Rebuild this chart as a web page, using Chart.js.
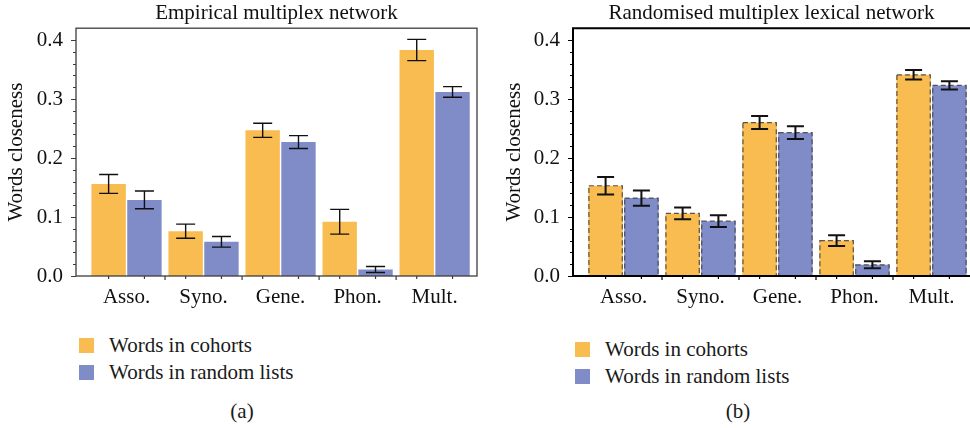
<!DOCTYPE html>
<html>
<head>
<meta charset="utf-8">
<script src="https://cdn.jsdelivr.net/npm/chart.js@4.4.1/dist/chart.umd.min.js"></script>
<style>
    html, body { margin: 0; padding: 0; background: #fff; }
    body { width: 970px; height: 428px; position: relative; overflow: hidden; font-family: "Liberation Serif", "DejaVu Serif", serif; color: #1a1a1a; }
    canvas { position: absolute; top: 0; }
    #chartA { left: 0; }
    #chartB { left: 485px; }
    .legend { position: absolute; font-size: 21px; }
    .legend .row { display: flex; align-items: center; height: 27px; }
    .legend .sw { width: 15px; height: 15px; margin-right: 15px; }
    .caption { position: absolute; font-size: 21px; width: 40px; text-align: center; }
</style>
</head>
<body>
<canvas id="chartA" width="485" height="310"></canvas>
<canvas id="chartB" width="485" height="310"></canvas>
<div class="legend" id="legendA" style="left:79px; top:332px;"></div>
<div class="legend" id="legendB" style="left:575px; top:336px;"></div>
<div class="caption" style="left:222px; top:399px;">(a)</div>
<div class="caption" style="left:718px; top:399px;">(b)</div>
<script>
const categories = ['Asso.', 'Syno.', 'Gene.', 'Phon.', 'Mult.'];
const seriesNames = ['Words in cohorts', 'Words in random lists'];

// (a) empirical network
const empCohorts = [0.156, 0.076, 0.247, 0.092, 0.383];
const empCohortsErr = [0.016, 0.012, 0.012, 0.021, 0.018];
const empRandom = [0.129, 0.058, 0.227, 0.011, 0.312];
const empRandomErr = [0.015, 0.009, 0.011, 0.005, 0.009];

// (b) randomised network
const rndCohorts = [0.153, 0.106, 0.260, 0.060, 0.341];
const rndCohortsErr = [0.015, 0.010, 0.011, 0.009, 0.008];
const rndRandom = [0.132, 0.093, 0.243, 0.019, 0.323];
const rndRandomErr = [0.013, 0.010, 0.011, 0.006, 0.007];

const yMajorTicks = [0, 0.1, 0.2, 0.3, 0.4];
const yMinorStep = 0.02;

const ORANGE = '#f9bc50';
const BLUE = '#808cc7';
const FONT = '"Liberation Serif", "DejaVu Serif", serif';

function toPoints(vals) {
    return vals.map((v, i) => ({ x: i, y: v }));
}

// error bars + axis tick marks + frame
const decorPlugin = {
    id: 'decor',
    afterDatasetsDraw(chart, args, opts) {
        const ctx = chart.ctx;
        const yScale = chart.scales.y;
        const xScale = chart.scales.x;
        const area = chart.chartArea;

        ctx.save();
        if (opts.dashed) {
            chart.data.datasets.forEach((ds, d) => {
                chart.getDatasetMeta(d).data.forEach(bar => {
                    const p = bar.getProps(['x', 'y', 'base', 'width'], true);
                    ctx.strokeStyle = 'rgba(60,60,60,0.85)';
                    ctx.lineWidth = 1.2;
                    ctx.setLineDash([5, 3]);
                    ctx.strokeRect(p.x - p.width / 2 + 0.5, p.y, p.width - 1, p.base - p.y);
                });
            });
            ctx.setLineDash([]);
        }

        // error bars
        chart.data.datasets.forEach((ds, d) => {
            chart.getDatasetMeta(d).data.forEach((bar, i) => {
                const v = ds.data[i].y;
                const e = ds.errors[i];
                const x = bar.x;
                const yTop = yScale.getPixelForValue(v + e);
                const yBot = yScale.getPixelForValue(v - e);
                ctx.strokeStyle = '#111';
                ctx.lineWidth = opts.errWidth;
                ctx.beginPath();
                ctx.moveTo(x, yTop); ctx.lineTo(x, yBot);
                ctx.moveTo(x - opts.cap, yTop); ctx.lineTo(x + opts.cap, yTop);
                ctx.moveTo(x - opts.cap, yBot); ctx.lineTo(x + opts.cap, yBot);
                ctx.stroke();
            });
        });

        // y tick marks
        ctx.strokeStyle = opts.frameColor;
        ctx.lineWidth = 1.2;
        ctx.beginPath();
        yScale.ticks.forEach(t => {
            const y = Math.round(yScale.getPixelForValue(t.value)) + 0.5;
            const major = yMajorTicks.some(m => Math.abs(m - t.value) < 1e-6);
            const len = major ? 5 : 3;
            ctx.moveTo(area.left - len, y); ctx.lineTo(area.left, y);
        });
        // x tick marks: bar centres and category boundaries
        chart.data.datasets.forEach((ds, d) => {
            chart.getDatasetMeta(d).data.forEach(bar => {
                ctx.moveTo(bar.x, area.bottom); ctx.lineTo(bar.x, area.bottom + 3);
            });
        });
        for (let i = 0; i < categories.length - 1; i++) {
            const x = xScale.getPixelForValue(i + 0.5);
            ctx.moveTo(x, area.bottom); ctx.lineTo(x, area.bottom + 4);
        }
        ctx.stroke();

        // frame
        ctx.strokeStyle = opts.frameColor;
        ctx.lineWidth = opts.frameWidth;
        if (opts.fullFrame) {
            ctx.strokeRect(area.left, area.top, area.right - area.left, area.bottom - area.top);
        } else {
            ctx.beginPath();
            ctx.moveTo(area.right, area.top);
            ctx.lineTo(area.left, area.top);
            ctx.lineTo(area.left, area.bottom);
            ctx.lineTo(area.right, area.bottom);
            ctx.stroke();
        }
        ctx.restore();
    }
};

function makeChart(id, title, cohorts, cohortsErr, random, randomErr, cfg) {
    return new Chart(document.getElementById(id), {
        type: 'bar',
        data: {
            datasets: [
                { label: seriesNames[0], data: toPoints(cohorts), errors: cohortsErr, backgroundColor: ORANGE, borderWidth: 0 },
                { label: seriesNames[1], data: toPoints(random), errors: randomErr, backgroundColor: BLUE, borderWidth: 0 }
            ]
        },
        plugins: [decorPlugin],
        options: {
            responsive: false,
            animation: false,
            categoryPercentage: 0.93,
            barPercentage: 0.96,
            layout: { padding: { top: 1, left: cfg.padLeft, right: cfg.padRight, bottom: 0 } },
            plugins: {
                legend: { display: false },
                tooltip: { enabled: false },
                title: {
                    display: true,
                    text: title,
                    fullSize: false,
                    color: '#111',
                    font: { family: FONT, size: 21, weight: 'normal' },
                    padding: { top: 0, bottom: 2 }
                },
                decor: cfg.decor
            },
            scales: {
                x: {
                    type: 'linear',
                    offset: false,
                    min: cfg.xMin,
                    max: cfg.xMax,
                    afterBuildTicks: s => { s.ticks = categories.map((c, i) => ({ value: i })); },
                    afterFit: s => { s.height = 34; },
                    grid: { display: false, drawTicks: false },
                    border: { display: false },
                    ticks: {
                        autoSkip: false,
                        maxRotation: 0,
                        padding: 9,
                        color: '#111',
                        font: { family: FONT, size: 21 },
                        callback: v => categories[v]
                    }
                },
                y: {
                    min: 0,
                    max: 0.42,
                    afterBuildTicks: s => {
                        const t = [];
                        for (let k = 0; k * yMinorStep <= 0.4 + 1e-9; k++) t.push({ value: k * yMinorStep });
                        s.ticks = t;
                    },
                    afterFit: s => { s.width = cfg.yWidth; },
                    grid: { display: false, drawTicks: false },
                    border: { display: false },
                    ticks: {
                        autoSkip: false,
                        padding: 13,
                        color: '#111',
                        font: { family: FONT, size: 21 },
                        callback: v => yMajorTicks.some(m => Math.abs(m - v) < 1e-6) ? v.toFixed(1) : ''
                    },
                    title: {
                        display: true,
                        text: 'Words closeness',
                        color: '#111',
                        font: { family: FONT, size: 21 },
                        padding: { top: 4, bottom: 0 }
                    }
                }
            }
        }
    });
}

function buildLegend(id) {
    const el = document.getElementById(id);
    [ORANGE, BLUE].forEach((c, i) => {
        const row = document.createElement('div');
        row.className = 'row';
        row.innerHTML = '<span class="sw" style="background:' + c + '"></span><span>' + seriesNames[i] + '</span>';
        el.appendChild(row);
    });
}

makeChart('chartA', 'Empirical multiplex network', empCohorts, empCohortsErr, empRandom, empRandomErr, {
    padLeft: 0, padRight: 8, yWidth: 76, xMin: -0.656, xMax: 4.55,
    decor: { dashed: false, errWidth: 1.4, cap: 9.5, frameColor: '#3c3c3c', frameWidth: 1.3, fullFrame: true }
});
makeChart('chartB', 'Randomised multiplex lexical network', rndCohorts, rndCohortsErr, rndRandom, rndRandomErr, {
    padLeft: 13, padRight: 0, yWidth: 75, xMin: -0.656, xMax: 4.5,
    decor: { dashed: true, errWidth: 2, cap: 8.5, frameColor: '#000', frameWidth: 2, fullFrame: false }
});
buildLegend('legendA');
buildLegend('legendB');
</script>
</body>
</html>
